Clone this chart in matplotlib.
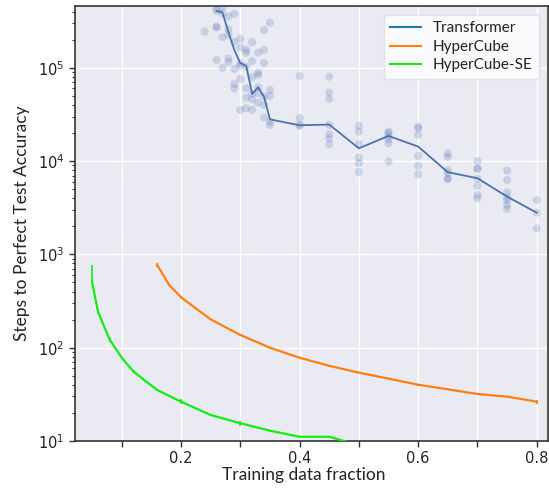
import matplotlib
matplotlib.use("Agg")
import matplotlib.pyplot as plt
from matplotlib.lines import Line2D
from matplotlib.ticker import MultipleLocator, FuncFormatter, LogLocator
import numpy as np

# ---------------- data ----------------
# Transformer individual runs (scatter)
trans_run_x = ([0.24] + [0.26]*5 + [0.27]*4 + [0.28]*5 + [0.29]*5 + [0.30]*6 + [0.31]*6
               + [0.32]*6 + [0.33]*6 + [0.34]*6 + [0.35]*5 + [0.40]*4 + [0.45]*7
               + [0.50]*6 + [0.55]*6 + [0.60]*6 + [0.65]*6 + [0.70]*7 + [0.75]*7 + [0.80]*3)
trans_run_y = ([2.44e5]
               + [4.34e5, 4.06e5, 2.76e5, 2.69e5, 1.21e5]
               + [4.45e5, 3.84e5, 2.12e5, 1.0e5]
               + [3.53e5, 2.59e5, 2.25e5, 1.26e5, 1.15e5]
               + [3.77e5, 1.90e5, 9.7e4, 6.7e4, 6.03e4]
               + [2.04e5, 1.64e5, 1.12e5, 1.05e5, 7.6e4, 3.53e4]
               + [1.55e5, 1.45e5, 1.03e5, 6.03e4, 4.78e4, 3.68e4]
               + [1.89e5, 1.18e5, 7.9e4, 5.24e4, 4.59e4, 3.53e4]
               + [1.45e5, 8.86e4, 8.37e4, 6.18e4, 5.33e4, 4.23e4]
               + [2.54e5, 1.55e5, 1.12e5, 4.9e4, 3.99e4, 2.92e4]
               + [3.04e5, 5.78e4, 4.99e4, 2.64e4, 2.44e4]
               + [8.17e4, 2.88e4, 2.44e4, 2.38e4]
               + [8.03e4, 5.41e4, 4.63e4, 2.44e4, 1.95e4, 1.75e4, 1.51e4]
               + [2.39e4, 2.07e4, 1.52e4, 1.09e4, 9.5e3, 7.6e3]
               + [2.07e4, 1.99e4, 1.86e4, 1.71e4, 1.55e4, 9.9e3]
               + [2.34e4, 2.25e4, 1.91e4, 1.14e4, 8.9e3, 7.2e3]
               + [1.21e4, 1.11e4, 8.0e3, 7.4e3, 6.5e3, 6.4e3]
               + [1.0e4, 8.4e3, 8.2e3, 6.5e3, 5.45e3, 4.33e3, 3.99e3]
               + [7.9e3, 6.27e3, 4.63e3, 4.09e3, 3.83e3, 3.38e3, 3.07e3]
               + [3.83e3, 2.8e3, 1.9e3])

# Transformer summary line
trans_x = [0.26, 0.27, 0.28, 0.29, 0.30, 0.31, 0.32, 0.33, 0.34, 0.35,
           0.40, 0.45, 0.50, 0.55, 0.60, 0.65, 0.70, 0.75, 0.80]
trans_y = [4.06e5, 3.9e5, 2.4e5, 1.55e5, 1.12e5, 1.05e5, 5.24e4, 6.18e4, 4.9e4, 2.8e4,
           2.42e4, 2.46e4, 1.37e4, 1.86e4, 1.43e4, 7.6e3, 6.55e3, 4.16e3, 2.8e3]

# HyperCube
hc_x = [0.16, 0.18, 0.20, 0.25, 0.30, 0.35, 0.40, 0.45, 0.50, 0.55, 0.60, 0.65, 0.70, 0.75, 0.80]
hc_y = [769, 470, 347, 201, 137, 100, 78, 64, 54, 46.6, 40.1, 35.8, 31.9, 29.9, 26.4]
hc_err = [30, 10, 8, 4, 2, 2, 1.5, 1, 1, 0.8, 0.8, 0.6, 0.6, 0.6, 1.3]

# HyperCube-SE
se_x = [0.05, 0.06, 0.08, 0.10, 0.12, 0.14, 0.16, 0.20, 0.25, 0.30, 0.35, 0.40, 0.45, 0.50]
se_y = [505, 243, 121, 78, 55.3, 44, 35.2, 26.4, 19.0, 15.5, 12.9, 11.1, 11.1, 9.0]
se_err_lo = [0, 15, 5, 2, 2, 1.5, 1, 1.6, 0.3, 0.9, 0.3, 0.2, 0.2, 0.2]
se_err_hi = [264, 15, 5, 2, 2, 1.5, 1, 1.6, 0.3, 0.9, 0.3, 0.2, 0.2, 0.2]

series_names = ["Transformer", "HyperCube", "HyperCube-SE"]
x_ticklabels = {0.2: "0.2", 0.4: "0.4", 0.6: "0.6", 0.8: "0.8"}

# ---------------- style ----------------
TRANS_LINE = "#4C72B0"
LEG_BLUE = "#1f77b4"
ORANGE = "#ff7f0e"
GREEN = "#11ee11"
LABEL_FONT = ["Lato", "DejaVu Sans"]

fig = plt.figure(figsize=(5.49, 4.90), dpi=100)
ax = fig.add_axes([75/549, 1 - 441/490, (548 - 75)/549, (441 - 6)/490])
ax.set_facecolor("#EAEAF2")
for s in ax.spines.values():
    s.set_color("#333333")
    s.set_linewidth(1.2)

ax.set_yscale("log")
ax.set_xlim(0.0212, 0.819)
ax.set_ylim(10, 4.59e5)

ax.scatter(trans_run_x, trans_run_y, s=34, color=TRANS_LINE, alpha=0.22,
           edgecolors="none", zorder=2)
ax.plot(trans_x, trans_y, color=TRANS_LINE, lw=1.3, zorder=3)

ax.errorbar(hc_x, hc_y, yerr=hc_err, color=ORANGE, lw=1.6, elinewidth=1.2,
            capsize=0, zorder=3)
ax.errorbar(se_x, se_y, yerr=[se_err_lo, se_err_hi], color=GREEN, lw=1.6,
            elinewidth=1.2, capsize=0, zorder=3)

# grid & ticks
ax.xaxis.set_major_locator(MultipleLocator(0.1))
ax.xaxis.set_major_formatter(FuncFormatter(
    lambda v, p: x_ticklabels.get(round(v, 2), "")))
ax.yaxis.set_major_locator(LogLocator(base=10, numticks=10))
ax.yaxis.set_minor_locator(LogLocator(base=10, subs=np.arange(2, 10), numticks=20))
ax.grid(True, which="major", color="white", lw=1.0, zorder=0)
ax.set_axisbelow(True)
ax.tick_params(axis="both", which="major", direction="out", length=4, width=1,
               color="#333333", labelsize=10.5, labelcolor="#222222")
ax.tick_params(axis="y", which="minor", direction="out", length=2.2, width=0.8,
               color="#333333")

ax.set_xlabel("Training data fraction", fontsize=12.5, family=LABEL_FONT,
              color="#222222")
ax.xaxis.set_label_coords(0.484, -0.059)
ax.set_ylabel("Steps to Perfect Test Accuracy", fontsize=12.5, family=LABEL_FONT,
              color="#222222", labelpad=6)

handles = [Line2D([], [], color=LEG_BLUE, lw=1.5),
           Line2D([], [], color=ORANGE, lw=1.5),
           Line2D([], [], color=GREEN, lw=1.5)]
leg = ax.legend(handles, series_names, loc="upper right", frameon=True,
                prop={"family": LABEL_FONT, "size": 11},
                borderaxespad=0.6, labelspacing=0.3, handlelength=2.0,
                facecolor="white", edgecolor="#dddddd", framealpha=0.8)
for t in leg.get_texts():
    t.set_color("#222222")

fig.savefig("out.png", dpi=100)
